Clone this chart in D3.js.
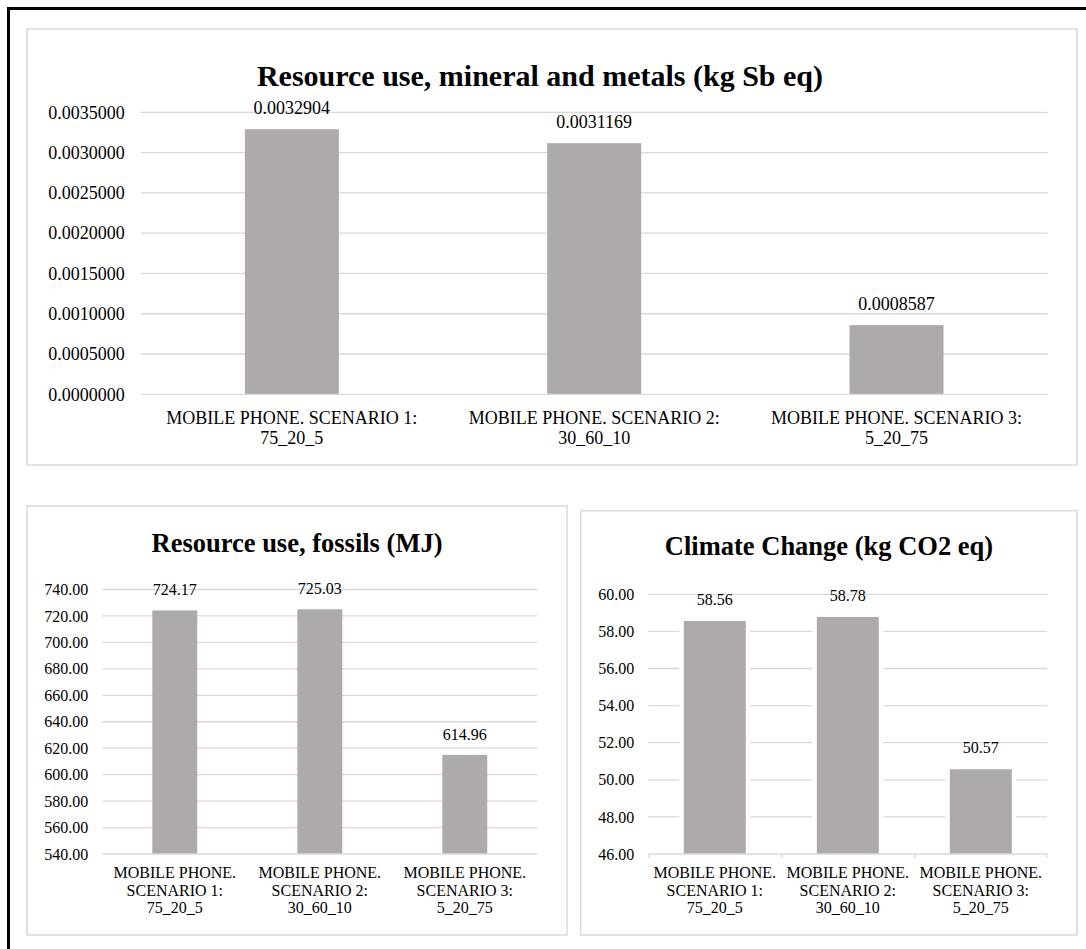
<!DOCTYPE html>
<html>
<head>
<meta charset="utf-8">
<script src="https://cdn.jsdelivr.net/npm/d3@7"></script>
<style>
  html, body { margin: 0; padding: 0; background: #fff; }
  svg { display: block; }
  text { font-family: "Liberation Serif", "Times New Roman", serif; fill: #000; }
</style>
</head>
<body>
<script>
// Scenario labels (line-broken differently for the wide and narrow panels)
const scenarioLinesWide = [
  ["MOBILE PHONE. SCENARIO 1:", "75_20_5"],
  ["MOBILE PHONE. SCENARIO 2:", "30_60_10"],
  ["MOBILE PHONE. SCENARIO 3:", "5_20_75"]
];
const scenarioLinesNarrow = [
  ["MOBILE PHONE.", "SCENARIO 1:", "75_20_5"],
  ["MOBILE PHONE.", "SCENARIO 2:", "30_60_10"],
  ["MOBILE PHONE.", "SCENARIO 3:", "5_20_75"]
];

// Impact results per scenario
const mineralsValues = [0.0032904, 0.0031169, 0.0008587];
const fossilsValues = [724.17, 725.03, 614.96];
const climateValues = [58.56, 58.78, 50.57];

// Axis tick values
const mineralsTicks = [0, 0.0005, 0.001, 0.0015, 0.002, 0.0025, 0.003, 0.0035];
const fossilsTicks = [540, 560, 580, 600, 620, 640, 660, 680, 700, 720, 740];
const climateTicks = [46, 48, 50, 52, 54, 56, 58, 60];

const W = 1086, H = 949;
const BAR = "#aeaaaa", GRID = "#d9d9d9", FRAME = "#d9d9d9";
const SERIF = '"Liberation Serif", "Times New Roman", serif';

const svg = d3.select("body").append("svg").attr("width", W).attr("height", H);

// Outer black frame
svg.append("rect")
  .attr("x", 8.5).attr("y", 8.5).attr("width", 1200).attr("height", 1200)
  .attr("fill", "none").attr("stroke", "#000").attr("stroke-width", 3);

function panel(cfg) {
  const g = svg.append("g").style("font-family", SERIF);
  // Panel box
  g.append("rect")
    .attr("x", cfg.box[0]).attr("y", cfg.box[1])
    .attr("width", cfg.box[2] - cfg.box[0]).attr("height", cfg.box[3] - cfg.box[1])
    .attr("fill", "#fff").attr("stroke", FRAME).attr("stroke-width", 1.5);

  // Title
  g.append("text")
    .attr("x", cfg.titleX).attr("y", cfg.titleY)
    .attr("text-anchor", "middle")
    .style("font-weight", "bold").style("font-size", cfg.titleSize + "px")
    .text(cfg.title);

  const x = d3.scaleBand()
    .domain(d3.range(cfg.values.length))
    .range([cfg.plot.x0, cfg.plot.x1])
    .paddingInner(cfg.pad).paddingOuter(cfg.pad / 2);
  const step = x.step();
  const y = d3.scaleLinear().domain(cfg.domain).range([cfg.plot.yBottom, cfg.plot.yTop]);

  // Horizontal gridlines
  g.append("g").selectAll("line").data(cfg.ticks.slice(1)).join("line")
    .attr("x1", cfg.plot.x0).attr("x2", cfg.plot.x1)
    .attr("y1", d => y(d)).attr("y2", d => y(d))
    .attr("stroke", GRID).attr("stroke-width", 1.3);

  // Value axis labels
  const yAxis = d3.axisLeft(y).tickValues(cfg.ticks).tickFormat(d3.format(cfg.fmt))
    .tickSize(0).tickPadding(cfg.tickGap);
  const ya = g.append("g").attr("transform", `translate(${cfg.plot.x0},0)`).call(yAxis)
    .attr("font-family", null).attr("font-size", null);
  ya.select(".domain").remove();
  ya.selectAll("text")
    .style("font-family", SERIF)
    .style("font-size", cfg.fontSize + "px").attr("fill", "#000");

  // White halo around bars (hides gridlines next to each bar)
  if (cfg.halo) {
    g.append("g").selectAll("rect").data(cfg.values).join("rect")
      .attr("x", (d, i) => x(i) - cfg.halo)
      .attr("y", d => y(d) - cfg.halo)
      .attr("width", x.bandwidth() + 2 * cfg.halo)
      .attr("height", d => y(cfg.domain[0]) - y(d) + cfg.halo)
      .attr("fill", "#fff");
  }

  // Bars
  g.append("g").selectAll("rect").data(cfg.values).join("rect")
    .attr("x", (d, i) => x(i))
    .attr("y", d => y(d))
    .attr("width", x.bandwidth())
    .attr("height", d => y(cfg.domain[0]) - y(d))
    .attr("fill", BAR);

  // Category axis line
  g.append("line")
    .attr("x1", cfg.plot.x0).attr("x2", cfg.plot.x1)
    .attr("y1", y(cfg.domain[0])).attr("y2", y(cfg.domain[0]))
    .attr("stroke", GRID).attr("stroke-width", 1.3);
  if (cfg.catTicks) {
    g.append("g").selectAll("line").data(d3.range(cfg.values.length + 1)).join("line")
      .attr("x1", i => cfg.plot.x0 + i * step + (i === cfg.values.length ? -0.5 : 0.5))
      .attr("x2", i => cfg.plot.x0 + i * step + (i === cfg.values.length ? -0.5 : 0.5))
      .attr("y1", y(cfg.domain[0])).attr("y2", y(cfg.domain[0]) + 4)
      .attr("stroke", GRID).attr("stroke-width", 1.3);
  }

  // Data labels
  g.append("g").selectAll("text").data(cfg.values).join("text")
    .attr("x", (d, i) => x(i) + x.bandwidth() / 2)
    .attr("y", d => y(d) - cfg.labelGap)
    .attr("text-anchor", "middle")
    .style("font-size", cfg.fontSize + "px")
    .text(d => d3.format(cfg.fmt)(d));

  // Category labels
  const cat = g.append("g").selectAll("text").data(cfg.categories).join("text")
    .attr("x", (d, i) => x(i) + x.bandwidth() / 2)
    .attr("y", cfg.catY)
    .attr("text-anchor", "middle")
    .style("font-size", cfg.fontSize + "px");
  cat.selectAll("tspan").data(d => d).join("tspan")
    .attr("x", function () { return this.parentNode.getAttribute("x"); })
    .attr("dy", (d, i) => i === 0 ? 0 : cfg.lineH)
    .text(d => d);
}

panel({
  box: [27, 29, 1077, 465],
  title: "Resource use, mineral and metals (kg Sb eq)",
  titleX: 540, titleY: 86, titleSize: 30,
  plot: { x0: 140.7, x1: 1047.7, yTop: 112.3, yBottom: 394.3 },
  domain: [0, 0.0035], ticks: mineralsTicks, fmt: ".7f",
  values: mineralsValues, categories: scenarioLinesWide,
  pad: 0.689, fontSize: 18, tickGap: 16, labelGap: 15,
  catY: 423.5, lineH: 20.7
});

panel({
  box: [27, 506, 567, 935],
  title: "Resource use, fossils (MJ)",
  titleX: 297, titleY: 552, titleSize: 26.5,
  plot: { x0: 102.3, x1: 537.3, yTop: 589.5, yBottom: 854 },
  domain: [540, 740], ticks: fossilsTicks, fmt: ".2f",
  values: fossilsValues, categories: scenarioLinesNarrow,
  pad: 0.69, fontSize: 16, tickGap: 14, labelGap: 15,
  catY: 878.3, lineH: 17.5
});

panel({
  box: [580.7, 510.7, 1077, 935],
  title: "Climate Change (kg CO2 eq)",
  titleX: 829, titleY: 555, titleSize: 26.5,
  plot: { x0: 648.3, x1: 1047.3, yTop: 594.3, yBottom: 854 },
  domain: [46, 60], ticks: climateTicks, fmt: ".2f",
  values: climateValues, categories: scenarioLinesNarrow,
  pad: 0.534, fontSize: 16, tickGap: 14, labelGap: 16,
  catY: 878.3, lineH: 17.5, halo: 4.3, catTicks: true
});
</script>
</body>
</html>
